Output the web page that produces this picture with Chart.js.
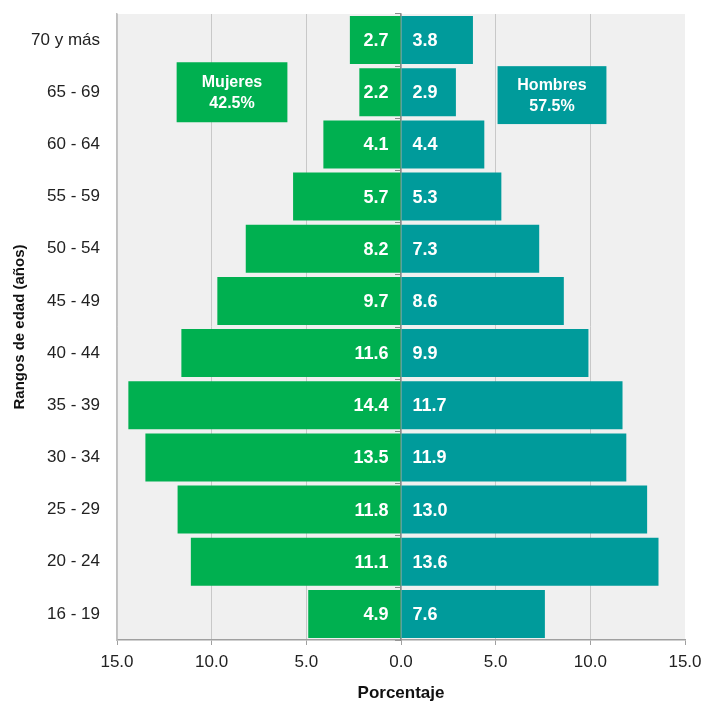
<!DOCTYPE html>
<html>
<head>
<meta charset="utf-8">
<script src="https://cdn.jsdelivr.net/npm/chart.js@4"></script>
<style>
html,body{margin:0;padding:0;background:#fff;}
#wrap{width:703px;height:702px;}
</style>
</head>
<body>
<div id="wrap"><canvas id="c" width="703" height="702"></canvas></div>
<script>
const categories = ['70 y más','65 - 69','60 - 64','55 - 59','50 - 54','45 - 49','40 - 44','35 - 39','30 - 34','25 - 29','20 - 24','16 - 19'];
const mujeres = [2.7,2.2,4.1,5.7,8.2,9.7,11.6,14.4,13.5,11.8,11.1,4.9];
const hombres = [3.8,2.9,4.4,5.3,7.3,8.6,9.9,11.7,11.9,13.0,13.6,7.6];
const seriesNames = ['Mujeres','Hombres'];
const seriesTotals = ['42.5%','57.5%'];
const xTitle = 'Porcentaje';
const yTitle = 'Rangos de edad (años)';

const GREEN = '#00B050';
const TEAL = '#009B9B';
const FONT = '"Liberation Sans Narrow","Arial Narrow","Liberation Sans",Arial,sans-serif';

const bgPlugin = {
  id: 'bg',
  beforeDraw(chart) {
    const {ctx, chartArea: a} = chart;
    ctx.save();
    ctx.fillStyle = '#F0F0F0';
    ctx.fillRect(a.left, a.top, a.right - a.left, a.bottom - a.top);
    ctx.restore();
  }
};

const labelPlugin = {
  id: 'vals',
  afterDatasetsDraw(chart) {
    const ctx = chart.ctx;
    ctx.save();
    ctx.font = 'bold 18px ' + FONT;
    ctx.fillStyle = '#FFFFFF';
    ctx.textBaseline = 'middle';
    chart.data.datasets.forEach((ds, i) => {
      const meta = chart.getDatasetMeta(i);
      meta.data.forEach((el, j) => {
        const v = Math.abs(ds.data[j]).toFixed(1);
        if (ds.data[j] < 0) {
          ctx.textAlign = 'right';
          ctx.fillText(v, el.base - 12, el.y + 1);
        } else {
          ctx.textAlign = 'left';
          ctx.fillText(v, el.base + 11, el.y + 1);
        }
      });
    });
    ctx.restore();
  }
};

const boxPlugin = {
  id: 'boxes',
  afterDatasetsDraw(chart) {
    const ctx = chart.ctx;
    const xs = chart.scales.x, ys = chart.scales.y;
    const boxes = [
      {x0: -11.85, x1: -6.0, yc: 1.0, h: 0.575, color: GREEN, name: seriesNames[0], tot: seriesTotals[0]},
      {x0: 5.1, x1: 10.85, yc: 1.055, h: 0.555, color: TEAL, name: seriesNames[1], tot: seriesTotals[1]}
    ];
    ctx.save();
    boxes.forEach(b => {
      const l = xs.getPixelForValue(b.x0), r = xs.getPixelForValue(b.x1);
      const t = ys.getPixelForValue(b.yc - b.h), bt = ys.getPixelForValue(b.yc + b.h);
      ctx.fillStyle = b.color;
      ctx.fillRect(l, t, r - l, bt - t);
      ctx.fillStyle = '#FFFFFF';
      ctx.font = 'bold 16px ' + FONT;
      ctx.textAlign = 'center';
      ctx.textBaseline = 'middle';
      const cx = (l + r) / 2, cy = (t + bt) / 2;
      ctx.fillText(b.name, cx, cy - 10);
      ctx.fillText(b.tot, cx, cy + 11);
    });
    ctx.restore();
  }
};

new Chart(document.getElementById('c'), {
  type: 'bar',
  data: {
    labels: categories,
    datasets: [
      {label: seriesNames[0], data: mujeres.map(v => -v), backgroundColor: GREEN, barPercentage: 0.92, categoryPercentage: 1.0},
      {label: seriesNames[1], data: hombres, backgroundColor: TEAL, barPercentage: 0.92, categoryPercentage: 1.0}
    ]
  },
  options: {
    indexAxis: 'y',
    responsive: false,
    animation: false,
    layout: {padding: {top: 14, right: 18, left: 0, bottom: 0}},
    plugins: {legend: {display: false}, tooltip: {enabled: false}},
    scales: {
      x: {
        stacked: true,
        min: -15, max: 15,
        ticks: {
          stepSize: 5,
          padding: 0,
          color: '#222',
          font: {family: FONT, size: 17, lineHeight: 2.0},
          callback: v => Math.abs(v).toFixed(1)
        },
        grid: {
          color: c => (c.tick && c.tick.value === 15) ? 'rgba(0,0,0,0)' : '#C8C8C8',
          tickColor: '#A0A0A0',
          tickLength: 5,
          lineWidth: 1
        },
        border: {color: '#A0A0A0', width: 1.5},
        title: {display: true, text: xTitle, color: '#111', font: {family: FONT, size: 17, weight: 'bold', lineHeight: 1}, padding: {top: 0, bottom: 0}},
        afterFit(s) { s.height = 62; }
      },
      y: {
        stacked: true,
        ticks: {color: '#222', font: {family: FONT, size: 17}, padding: 0},
        grid: {display: false, drawTicks: true, tickLength: 17},
        border: {display: true, color: '#C0C0C0', width: 1.5},
        title: {display: true, text: yTitle, color: '#111', font: {family: FONT, size: 15, weight: 'bold', lineHeight: 1}, padding: {top: 12, bottom: 0}},
        afterFit(s) { s.width = 117; }
      },
      y2: {
        type: 'category',
        axis: 'y',
        position: {x: 0},
        offset: true,
        z: 1,
        ticks: {display: false},
        grid: {offset: true, drawOnChartArea: false, tickLength: 5, tickColor: '#8C8C8C'},
        border: {color: '#8C8C8C', width: 1.5}
      }
    }
  },
  plugins: [bgPlugin, labelPlugin, boxPlugin]
});
</script>
</body>
</html>
